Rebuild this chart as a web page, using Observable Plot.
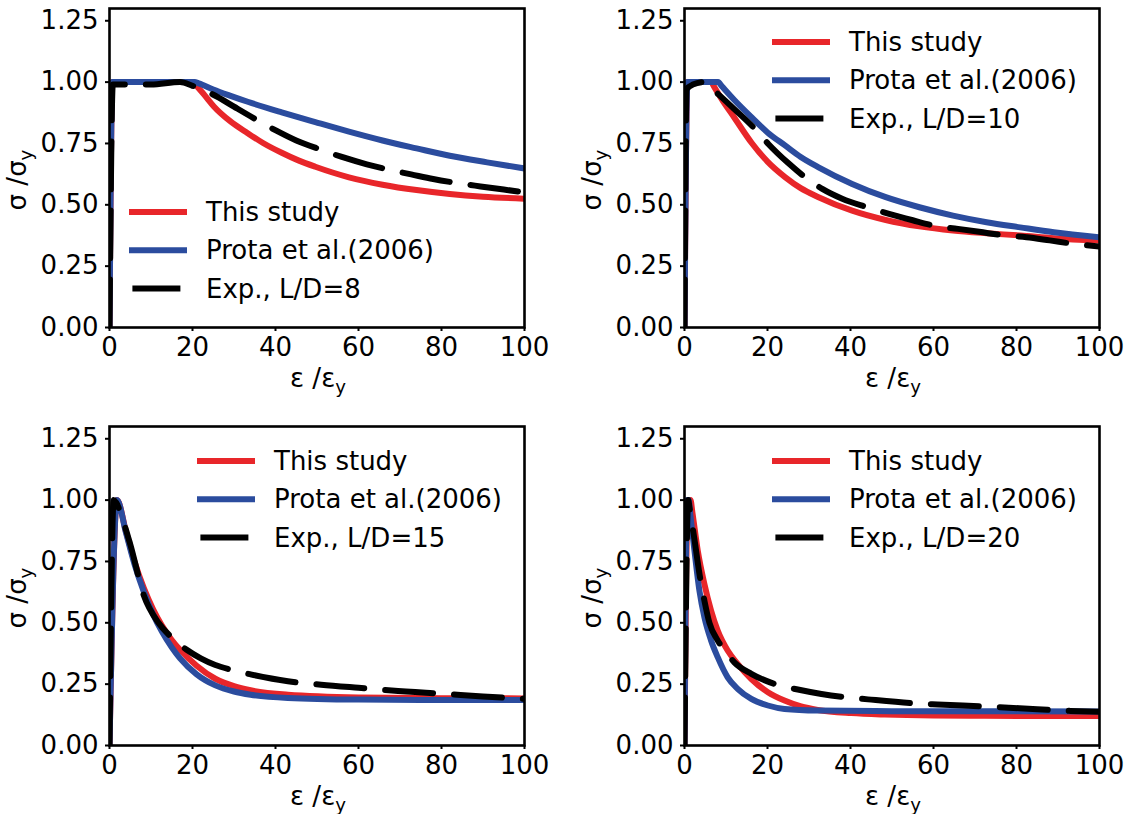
<!DOCTYPE html>
<html><head><meta charset="utf-8">
<script src="https://cdn.jsdelivr.net/npm/d3@7"></script>
<script src="https://cdn.jsdelivr.net/npm/@observablehq/plot@0.6"></script>
<style>
body{margin:0;background:#fff;overflow:hidden}
#wrap{position:relative;width:1132px;height:814px;background:#fff;overflow:hidden}
.panel{position:absolute}
g[aria-label="x-axis tick"], g[aria-label="y-axis tick"]{stroke-width:2px}
</style></head><body><div id="wrap"></div>
<script>
// ---- tick labels ----
const xTicks = [0, 20, 40, 60, 80, 100];
const yTicks = [0, 0.25, 0.5, 0.75, 1.0, 1.25];
const legendNames = ["This study", "Prota et al.(2006)"];
const expLabels = ["Exp., L/D=8", "Exp., L/D=10", "Exp., L/D=15", "Exp., L/D=20"];

// ---- series: [ε/εy, σ/σy] ----
const ld8This = [[0,0],[0.7,1.0],[20.3,1.0],[21,0.985],[23,0.945],[25.2,0.90],[29,0.842],[33.3,0.792],[37,0.752],[41.5,0.712],[45.5,0.681],[49.6,0.655],[57.7,0.612],[65.8,0.582],[74,0.56],[82,0.544],[90,0.533],[100,0.525]];
const ld8Prota = [[0,0],[0.7,1.0],[20.5,1.0],[21.5,0.995],[25,0.97],[29,0.945],[33.3,0.92],[41.5,0.877],[49.6,0.837],[57.7,0.798],[65.8,0.762],[74,0.73],[82,0.70],[91,0.673],[100,0.648]];
const ld8Exp = [[0,0],[0.8,0.99],[5,0.99],[10,0.99],[17,1.0],[20,0.985],[23,0.965],[26,0.94],[30,0.9],[35.8,0.843],[40.2,0.802],[45,0.762],[51.2,0.723],[56,0.695],[62,0.665],[67.4,0.643],[72.7,0.624],[78,0.605],[84,0.588],[89.4,0.575],[95,0.562],[100,0.551]];

const ld10This = [[0,0],[0.7,1.0],[6.5,1.0],[7,0.985],[9,0.93],[12.1,0.853],[16.2,0.752],[20,0.676],[24.3,0.612],[28,0.568],[32.3,0.531],[40.4,0.476],[48.5,0.438],[56.6,0.412],[64.7,0.395],[72.8,0.384],[80.9,0.375],[89,0.364],[100,0.354]];
const ld10Prota = [[0,0],[0.7,1.0],[8.1,1.0],[9,0.983],[12,0.927],[16.2,0.856],[20,0.795],[24.3,0.741],[28,0.695],[32.3,0.653],[40.4,0.585],[48.5,0.531],[56.6,0.49],[64.7,0.456],[72.8,0.429],[80.9,0.408],[89,0.388],[100,0.368]];
const ld10Exp = [[0,0],[0.5,0.97],[2,0.99],[4.8,1.0],[8.1,0.951],[12,0.89],[17,0.809],[20.2,0.748],[25,0.67],[29.1,0.612],[33.2,0.565],[38,0.525],[44.1,0.49],[49.3,0.463],[55,0.437],[60.2,0.415],[65.9,0.402],[71,0.39],[77.2,0.375],[82.4,0.368],[88,0.355],[93.7,0.341],[100,0.33]];

const ld15This = [[0,0],[1.8,1.0],[4,0.87],[6,0.75],[8.3,0.64],[10.5,0.555],[12.6,0.49],[15,0.43],[17,0.39],[21,0.325],[25.5,0.272],[30,0.242],[34,0.225],[43,0.207],[60,0.196],[80,0.193],[100,0.192]];
const ld15Prota = [[0,0],[1.8,1.0],[4,0.865],[6,0.74],[8.3,0.625],[10.5,0.535],[12.6,0.465],[15,0.40],[17,0.355],[21,0.29],[25.5,0.245],[30,0.22],[34,0.207],[43,0.194],[60,0.187],[80,0.185],[100,0.185]];
const ld15Exp = [[0,0],[1,1.0],[1.6,0.99],[3,0.93],[5,0.82],[8.3,0.61],[11.8,0.50],[15,0.44],[18.6,0.39],[22,0.355],[25.5,0.328],[29,0.31],[34,0.29],[43,0.262],[51,0.248],[60,0.235],[68,0.224],[81,0.21],[90,0.2],[100,0.19]];

const ld20This = [[0,0],[0.8,1.0],[1.45,1.0],[1.9,0.95],[3.2,0.794],[4.8,0.658],[6.4,0.55],[8,0.468],[10.4,0.387],[12.8,0.333],[16.1,0.271],[20.1,0.217],[24.1,0.183],[28.1,0.159],[32.1,0.145],[40.2,0.132],[48.2,0.126],[60,0.122],[72.3,0.121],[100,0.12]];
const ld20Prota = [[0,0],[0.6,1.0],[1.0,1.0],[1.4,0.94],[2.4,0.794],[3.6,0.63],[4.8,0.522],[6.4,0.428],[8,0.36],[10.4,0.278],[12.8,0.231],[16.1,0.19],[20.1,0.163],[24.1,0.149],[32.1,0.1425],[50,0.14],[100,0.139]];
const ld20Exp = [[0,0],[0.9,1.0],[1.2,0.97],[2.4,0.84],[3.6,0.70],[4.8,0.59],[6,0.5],[8,0.428],[9.6,0.39],[12,0.339],[16.1,0.292],[21.7,0.251],[27.3,0.228],[33,0.21],[38.6,0.197],[44.2,0.188],[55.4,0.172],[61,0.167],[72.3,0.159],[85,0.148],[93,0.141],[100,0.137]];

const RED = "#e8262a", BLUE = "#2b4c9e";
const ML = 109, MT = 8, FW = 415, FH = 319, FS = 26;

const panels = [
  {left:0,   top:0,   width:566, series:[ld8This, ld8Prota, ld8Exp],   exp:expLabels[0], lgX:20, lgY:204},
  {left:575, top:0,   width:557, series:[ld10This, ld10Prota, ld10Exp], exp:expLabels[1], lgX:88, lgY:34},
  {left:0,   top:418, width:566, series:[ld15This, ld15Prota, ld15Exp], exp:expLabels[2], lgX:88, lgY:35},
  {left:575, top:418, width:557, series:[ld20This, ld20Prota, ld20Exp], exp:expLabels[3], lgX:88, lgY:35}
];

const wrap = document.getElementById("wrap");
const lineOpts = {x: d => d[0], y: d => d[1], curve: "monotone-x", clip: true};

for (const p of panels) {
  const chart = Plot.plot({
    width: p.width, height: 407,
    marginLeft: ML, marginRight: p.width - ML - FW, marginTop: MT, marginBottom: 407 - MT - FH,
    style: {fontFamily: "DejaVu Sans", fontSize: FS + "px", color: "black", background: "white", overflow: "visible"},
    x: {domain: [0, 100], ticks: xTicks, tickSize: 4, tickPadding: 6, label: null},
    y: {domain: [0, 1.3], ticks: yTicks, tickFormat: d => d.toFixed(2), tickSize: 4, tickPadding: 7, label: null},
    marks: [
      Plot.line(p.series[0], {...lineOpts, stroke: RED, strokeWidth: 6}),
      Plot.line(p.series[1], {...lineOpts, stroke: BLUE, strokeWidth: 6}),
      Plot.line(p.series[2], {...lineOpts, stroke: "black", strokeWidth: 6, strokeDasharray: "48,21"}),
      Plot.frame({stroke: "black", strokeWidth: 2.6})
    ]
  });
  chart.classList.add("panel");
  chart.style.left = p.left + "px";
  chart.style.top = p.top + "px";
  wrap.appendChild(chart);

  const svg = d3.select(chart);
  // legend
  const names = [legendNames[0], legendNames[1], p.exp];
  const strokes = [RED, BLUE, "black"];
  const lg = svg.append("g");
  names.forEach((name, i) => {
    const y = MT + p.lgY + i * 38.3;
    const x0 = ML + p.lgX;
    const l = lg.append("line").attr("y1", y).attr("y2", y)
      .attr("stroke", strokes[i]).attr("stroke-width", 6);
    if (i < 2) {
      l.attr("x1", x0 + 3).attr("x2", x0 + 55).attr("stroke-linecap", "square");
    } else {
      l.attr("x1", x0 + 3.4).attr("x2", x0 + 55.4).attr("stroke-dasharray", "48,21");
    }
    lg.append("text").attr("x", x0 + 77).attr("y", y).attr("dy", "0.35em")
      .attr("text-anchor", "start")
      .attr("font-family", "DejaVu Sans").attr("font-size", FS).attr("fill", "black").text(name);
  });
  // y label
  const yl = svg.append("text")
    .attr("transform", `translate(26,${MT + 172}) rotate(-90)`)
    .attr("text-anchor", "middle").attr("font-family", "DejaVu Sans").attr("font-size", FS).attr("fill", "black");
  yl.append("tspan").text("σ /σ");
  yl.append("tspan").attr("font-size", FS * 0.7).attr("dy", "0.35em").text("y");
  // x label
  const xl = svg.append("text")
    .attr("x", ML + FW / 2 + 1.5).attr("y", MT + FH + 60)
    .attr("text-anchor", "middle").attr("font-family", "DejaVu Sans").attr("font-size", FS).attr("fill", "black");
  xl.append("tspan").text("ε /ε");
  xl.append("tspan").attr("font-size", FS * 0.7).attr("dy", "0.35em").text("y");
}
</script></body></html>
